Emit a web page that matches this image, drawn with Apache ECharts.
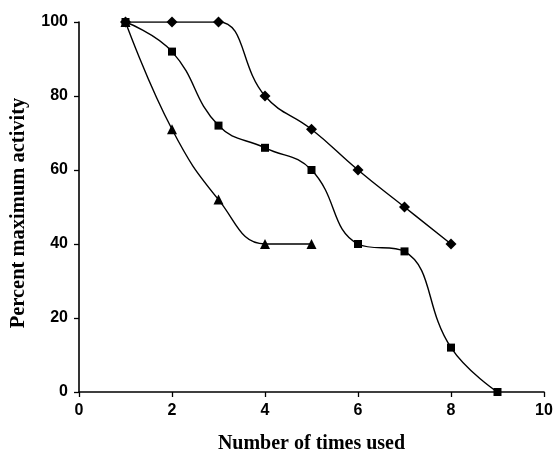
<!DOCTYPE html>
<html>
<head>
<meta charset="utf-8">
<script src="https://cdn.jsdelivr.net/npm/echarts@6/dist/echarts.min.js"></script>
<style>
  html, body { margin: 0; padding: 0; background: #fff; }
  #chart { width: 553px; height: 452px; }
</style>
</head>
<body>
<div id="chart"></div>
<script>
// data
const diamondX = [1, 2, 3, 4, 5, 6, 7, 8]
const diamondY = [100, 100, 100, 80, 71, 60, 50, 40]
const squareX = [1, 2, 3, 4, 5, 6, 7, 8, 9]
const squareY = [100, 92, 72, 66, 60, 40, 38, 12, 0]
const triangleX = [1, 2, 3, 4, 5]
const triangleY = [100, 71, 52, 40, 40]

const xTicks = [0, 2, 4, 6, 8, 10]
const yTicks = [0, 20, 40, 60, 80, 100]

const pairs = (xs, ys) => xs.map((x, i) => [x, ys[i]])

const chart = echarts.init(document.getElementById('chart'))

const labelFont = {
  color: '#000',
  fontFamily: 'Liberation Sans, Arial, sans-serif',
  fontWeight: 'bold',
  fontSize: 16
}
const titleFont = (size) => ({
  color: '#000',
  fontFamily: 'Liberation Serif, Times New Roman, serif',
  fontWeight: 'bold',
  fontSize: size
})

function lineSeries(data, symbol, size) {
  return {
    type: 'line',
    data: data,
    smooth: 0.45,
    symbol: symbol,
    symbolSize: size,
    lineStyle: { color: '#000', width: 1.4 },
    itemStyle: { color: '#000' },
    animation: false
  }
}

chart.setOption({
  animation: false,
  grid: { left: 79, right: 9, top: 22, bottom: 60, outerBoundsMode: 'none', containLabel: false },
  xAxis: {
    type: 'value',
    min: xTicks[0],
    max: xTicks[xTicks.length - 1],
    interval: 2,
    name: 'Number of times used',
    nameLocation: 'middle',
    nameGap: 42,
    nameTextStyle: titleFont(20),
    axisLine: { lineStyle: { color: '#000', width: 1.6 } },
    axisTick: { lineStyle: { color: '#000', width: 1.3 }, length: 5, inside: false },
    axisLabel: Object.assign({ margin: 11 }, labelFont),
    splitLine: { show: false }
  },
  yAxis: {
    type: 'value',
    min: yTicks[0],
    max: yTicks[yTicks.length - 1],
    interval: 20,
    name: 'Percent maximum activity',
    nameLocation: 'middle',
    nameGap: 50,
    nameTextStyle: Object.assign(titleFont(20.5), { padding: [0, 12, 0, 0] }),
    axisLine: { show: true, lineStyle: { color: '#000', width: 1.6 } },
    axisTick: { show: true, lineStyle: { color: '#000', width: 1.3 }, length: 5 },
    axisLabel: Object.assign({ margin: 11 }, labelFont),
    splitLine: { show: false }
  },
  series: [
    lineSeries(pairs(diamondX, diamondY), 'diamond', 11),
    lineSeries(pairs(squareX, squareY), 'rect', 8),
    lineSeries(pairs(triangleX, triangleY), 'triangle', 10)
  ]
})
</script>
</body>
</html>
